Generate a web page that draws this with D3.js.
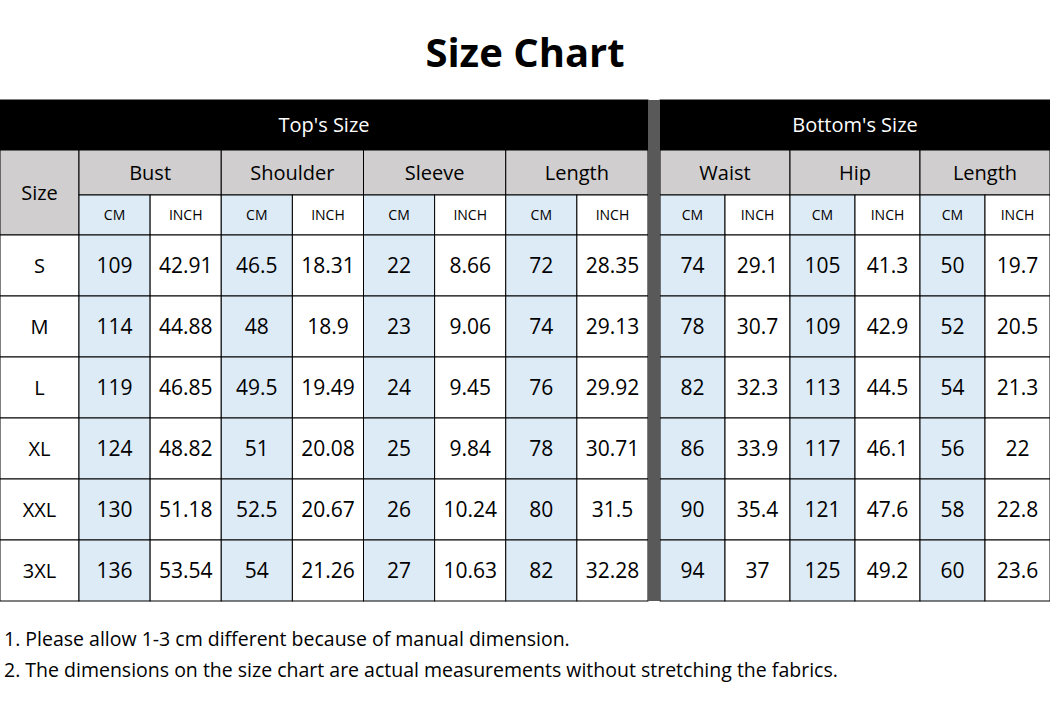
<!DOCTYPE html>
<html><head><meta charset="utf-8">
<script src="https://cdn.jsdelivr.net/npm/d3@7"></script>
<style>body{margin:0;background:#fff}text{font-family:"Open Sans",sans-serif}</style>
</head><body><div id="chart"></div>
<script>
const sizes = ["S","M","L","XL","XXL","3XL"];
const topGroups = ["Bust","Shoulder","Sleeve","Length"];
const bottomGroups = ["Waist","Hip","Length"];
const topValues = [
  ["109","42.91","46.5","18.31","22","8.66","72","28.35"],
  ["114","44.88","48","18.9","23","9.06","74","29.13"],
  ["119","46.85","49.5","19.49","24","9.45","76","29.92"],
  ["124","48.82","51","20.08","25","9.84","78","30.71"],
  ["130","51.18","52.5","20.67","26","10.24","80","31.5"],
  ["136","53.54","54","21.26","27","10.63","82","32.28"]
];
const bottomValues = [
  ["74","29.1","105","41.3","50","19.7"],
  ["78","30.7","109","42.9","52","20.5"],
  ["82","32.3","113","44.5","54","21.3"],
  ["86","33.9","117","46.1","56","22"],
  ["90","35.4","121","47.6","58","22.8"],
  ["94","37","125","49.2","60","23.6"]
];
const notes = [
  "1. Please allow 1-3 cm different because of manual dimension.",
  "2. The dimensions on the size chart are actual measurements without stretching the fabrics."
];

const width = 1050, height = 706;
const svg = d3.select("#chart").append("svg").attr("width", width).attr("height", height);
const grey = "#d0cece", blue = "#ddebf7", line = "#000";

svg.append("text").attr("x", width/2).attr("y", 67).attr("text-anchor","middle")
  .attr("font-size", 40).attr("font-weight","bold").text("Size Chart");

// row scale
const yRows = d3.scaleLinear().domain([0, 6]).range([235, 601]);
const leftX = d3.scaleLinear().domain([0, 8]).range([79, 648]);
const rightX = d3.scaleLinear().domain([0, 6]).range([660, 1050]);

function cell(x0, x1, y0, y1, fill, txt, size) {
  svg.append("rect").attr("x", x0).attr("y", y0).attr("width", x1-x0).attr("height", y1-y0)
    .attr("fill", fill).attr("stroke", line).attr("stroke-width", 1);
  svg.append("text").attr("x", (x0+x1)/2).attr("y", (y0+y1)/2).attr("dy","0.35em")
    .attr("text-anchor","middle").attr("font-size", size)
    .attr("fill", fill === "#000" ? "#fff" : "#000").text(txt);
}

// header rows
cell(0, 648, 100, 150, "#000", "Top's Size", 20);
cell(660, 1050, 100, 150, "#000", "Bottom's Size", 20);
cell(0, 79, 150, 235, grey, "Size", 20);
topGroups.forEach((g, i) => {
  cell(leftX(i*2), leftX(i*2+2), 150, 195, grey, g, 20);
  cell(leftX(i*2), leftX(i*2+1), 195, 235, blue, "CM", 14);
  cell(leftX(i*2+1), leftX(i*2+2), 195, 235, "#fff", "INCH", 14);
});
bottomGroups.forEach((g, i) => {
  cell(rightX(i*2), rightX(i*2+2), 150, 195, grey, g, 20);
  cell(rightX(i*2), rightX(i*2+1), 195, 235, blue, "CM", 14);
  cell(rightX(i*2+1), rightX(i*2+2), 195, 235, "#fff", "INCH", 14);
});

// data rows
sizes.forEach((s, r) => {
  const y0 = yRows(r), y1 = yRows(r+1);
  cell(0, 79, y0, y1, "#fff", s, 20);
  topValues[r].forEach((v, c) => cell(leftX(c), leftX(c+1), y0, y1, c % 2 ? "#fff" : blue, v, 21));
  bottomValues[r].forEach((v, c) => cell(rightX(c), rightX(c+1), y0, y1, c % 2 ? "#fff" : blue, v, 21));
});

// divider
svg.append("rect").attr("x", 648).attr("y", 100).attr("width", 12).attr("height", 501).attr("fill", "#595959");

svg.selectAll("text.note").data(notes).enter().append("text").attr("class","note")
  .attr("x", 4).attr("y", (d, i) => 646 + i*31).attr("font-size", 19.5).text(d => d);
</script></body></html>
